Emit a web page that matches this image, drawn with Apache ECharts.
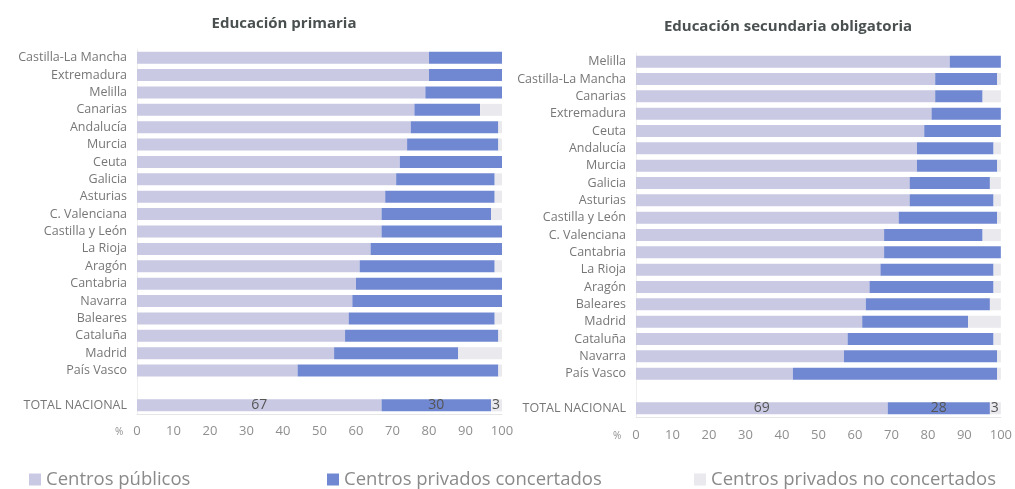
<!DOCTYPE html>
<html>
<head>
<meta charset="utf-8">
<script src="https://cdn.jsdelivr.net/npm/echarts@6/dist/echarts.min.js"></script>
<style>html,body{margin:0;padding:0;background:#fff;}#c{width:1015px;height:489px;}</style>
</head>
<body>
<div id="c"></div>
<script>
// Educación primaria
const catsPrim = ['Castilla-La Mancha','Extremadura','Melilla','Canarias','Andalucía','Murcia','Ceuta','Galicia','Asturias','C. Valenciana','Castilla y León','La Rioja','Aragón','Cantabria','Navarra','Baleares','Cataluña','Madrid','País Vasco','','TOTAL NACIONAL'];
const pubPrim  = [80,80,79,76,75,74,72,71,68,67,67,64,61,60,59,58,57,54,44,null,67];
const concPrim = [20,20,21,18,24,25,28,27,30,30,33,36,37,40,41,40,42,34,55,null,30];
const noConcPrim=[0,0,0,6,1,1,0,2,2,3,0,0,2,0,0,2,1,12,1,null,3];

// Educación secundaria obligatoria
const catsSec = ['Melilla','Castilla-La Mancha','Canarias','Extremadura','Ceuta','Andalucía','Murcia','Galicia','Asturias','Castilla y León','C. Valenciana','Cantabria','La Rioja','Aragón','Baleares','Madrid','Cataluña','Navarra','País Vasco','','TOTAL NACIONAL'];
const pubSec  = [86,82,82,81,79,77,77,75,75,72,68,68,67,64,63,62,58,57,43,null,69];
const concSec = [14,17,13,19,21,21,22,22,23,27,27,32,31,34,34,29,40,42,56,null,28];
const noConcSec=[0,1,5,0,0,2,1,3,2,1,5,0,2,2,3,9,2,1,1,null,3];

const xTicks = [0,10,20,30,40,50,60,70,80,90,100];
const seriesNames = ['Centros públicos','Centros privados concertados','Centros privados no concertados'];
const colors = ['#c9c9e4','#7088d1','#e9e9ee'];

const chart = echarts.init(document.getElementById('c'));
const FONT = '"Open Sans", "Noto Sans", sans-serif';

function xAxis(gi, margin){
  return {
    gridIndex: gi, type: 'value', min: 0, max: 100, interval: 10,
    axisLine: {show: true, lineStyle: {color: '#e6e6e6'}},
    axisTick: {show: false},
    splitLine: {show: false},
    axisLabel: {color: '#8f8f8f', fontSize: 13, fontFamily: FONT, margin: margin,
      formatter: v => xTicks.indexOf(v) >= 0 ? String(v) : ''}
  };
}
function yAxis(gi, cats){
  return {
    gridIndex: gi, type: 'category', data: cats, inverse: true,
    axisLine: {show: true, lineStyle: {color: '#eeeeee'}},
    axisTick: {show: false},
    axisLabel: {color: '#777777', fontSize: 12.5, fontFamily: FONT, margin: 10}
  };
}
function totalLabel(arr, pos){
  return {
    show: true, position: pos, color: '#555', fontSize: 14, fontFamily: FONT,
    formatter: p => p.dataIndex === arr.length - 1 ? String(arr[p.dataIndex]) : ''
  };
}
function mkSeries(gi, pub, conc, nc){
  const stack = 's' + gi;
  return [
    {name: seriesNames[0], type: 'bar', stack, xAxisIndex: gi, yAxisIndex: gi, data: pub, barWidth: 12,
     itemStyle: {color: colors[0]}, label: totalLabel(pub, 'inside'), animation: false},
    {name: seriesNames[1], type: 'bar', stack, xAxisIndex: gi, yAxisIndex: gi, data: conc, barWidth: 12,
     itemStyle: {color: colors[1]}, label: totalLabel(conc, 'inside'), animation: false},
    {name: seriesNames[2], type: 'bar', stack, xAxisIndex: gi, yAxisIndex: gi, data: nc, barWidth: 12,
     itemStyle: {color: colors[2]}, label: Object.assign(totalLabel(nc, 'insideRight'), {offset: [3, 0]}), animation: false}
  ];
}

chart.setOption({
  backgroundColor: '#fff',
  animation: false,
  title: [
    {text: 'Educación primaria', left: 279, top: 11, textAlign: 'center',
     textStyle: {fontSize: 15, fontWeight: 'bold', color: '#4a5050', fontFamily: FONT}},
    {text: 'Educación secundaria obligatoria', left: 783, top: 14, textAlign: 'center',
     textStyle: {fontSize: 15, fontWeight: 'bold', color: '#4a5050', fontFamily: FONT}}
  ],
  grid: [
    {left: 137, width: 365, top: 49, height: 365},
    {left: 636, width: 366, top: 53, height: 364}
  ],
  xAxis: [xAxis(0, 11), xAxis(1, 12)],
  yAxis: [yAxis(0, catsPrim), yAxis(1, catsSec)],
  legend: [
    {data: [seriesNames[0]], left: 29, top: 470},
    {data: [seriesNames[1]], left: 327, top: 470},
    {data: [seriesNames[2]], left: 694, top: 470}
  ].map(l => Object.assign(l, {icon: 'rect', itemWidth: 12, itemHeight: 12, itemGap: 6, padding: 0,
      textStyle: {fontSize: 18.5, color: '#8a8a8a', fontFamily: FONT}})),
  graphic: [
    {type: 'text', left: 115, top: 427, style: {text: '%', fill: '#8f8f8f', fontSize: 10, fontFamily: FONT}},
    {type: 'text', left: 613, top: 431, style: {text: '%', fill: '#8f8f8f', fontSize: 10, fontFamily: FONT}}
  ],
  series: [...mkSeries(0, pubPrim, concPrim, noConcPrim), ...mkSeries(1, pubSec, concSec, noConcSec)]
});
</script>
</body>
</html>
